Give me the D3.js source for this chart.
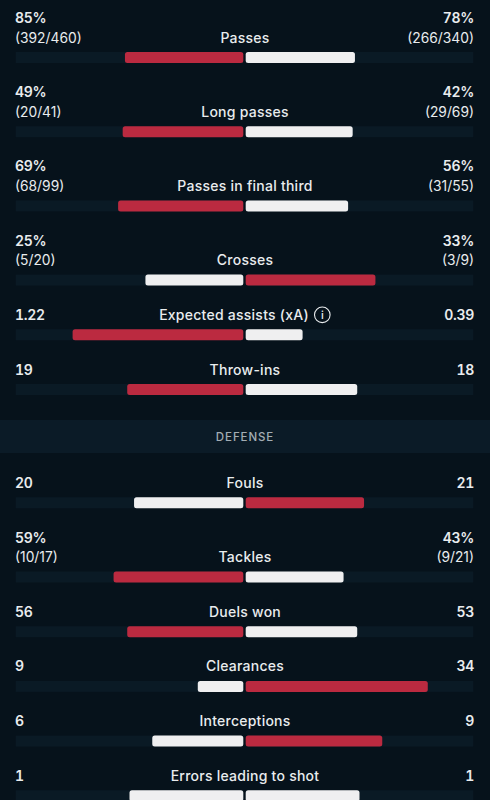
<!DOCTYPE html>
<html><head><meta charset="utf-8">
<script src="https://cdn.jsdelivr.net/npm/d3@7"></script>
<style>html,body{margin:0;padding:0;background:#06121b;overflow:hidden}svg{display:block}text{font-family:Inter,"Noto Sans",sans-serif}.num{font-variant-numeric:tabular-nums;letter-spacing:-0.3px}</style>
</head><body><svg id="c" width="490" height="800"></svg>
<script>
const categories=["Passes","Long passes","Passes in final third","Crosses","Expected assists (xA)","Throw-ins","Fouls","Tackles","Duels won","Clearances","Interceptions","Errors leading to shot"];
const leftValues=[85,49,69,25,1.22,19,20,59,56,9,6,1];
const rightValues=[78,42,56,33,0.39,18,21,43,53,34,9,1];
const leftBarShare=[0.52,0.53,0.55,0.43,0.75,0.51,0.48,0.57,0.51,0.20,0.40,0.50];
const leftLabels=["85%","49%","69%","25%","1.22","19","20","59%","56","9","6","1"];
const rightLabels=["78%","42%","56%","33%","0.39","18","21","43%","53","34","9","1"];
const leftDetail=["(392/460)","(20/41)","(68/99)","(5/20)","","","","(10/17)","","","",""];
const rightDetail=["(266/340)","(29/69)","(31/55)","(3/9)","","","","(9/21)","","","",""];
const sectionLabel="DEFENSE";
const sectionAfter=5;

const svg=d3.select("#c");
const RED="#bb2a40",WHITE="#efeff0",TRACK="#0a1a25",BAND="#0b1b27",TXT="#e9ecee";
const xL=d3.scaleLinear().domain([0,1]).range([243.3,15.7]);
const xR=d3.scaleLinear().domain([0,1]).range([245.7,473.3]);
let y=0;
const tops=categories.map((c,i)=>{
  if(i===0) y=52; else {
    y+=(leftDetail[i]?74.2:54.7);
    if(i===sectionAfter+1) y+=58.6;
  }
  return y;
});
const bandY=tops[sectionAfter]+36;
svg.append("rect").attr("x",0).attr("y",bandY).attr("width",490).attr("height",33).attr("fill",BAND);
svg.append("text").attr("x",245).attr("y",bandY+20.5).attr("text-anchor","middle").attr("font-size",11.5).attr("font-weight",500).attr("letter-spacing",0.9).attr("fill","#a3adb4").text(sectionLabel);

const g=svg.selectAll("g.row").data(categories).join("g").attr("class","row").attr("transform",(d,i)=>`translate(0,${tops[i]})`);
g.append("rect").attr("x",xL(1)).attr("y",0).attr("width",xL(0)-xL(1)).attr("height",11).attr("fill",TRACK);
g.append("rect").attr("x",xR(0)).attr("y",0).attr("width",xR(1)-xR(0)).attr("height",11).attr("fill",TRACK);
g.append("rect").attr("x",(d,i)=>xL(leftBarShare[i])).attr("y",0).attr("height",11).attr("rx",2.5)
 .attr("width",(d,i)=>xL(0)-xL(leftBarShare[i]))
 .attr("fill",(d,i)=>leftValues[i]>rightValues[i]?RED:WHITE);
g.append("rect").attr("x",xR(0)).attr("y",0).attr("height",11).attr("rx",2.5)
 .attr("width",(d,i)=>xR(1-leftBarShare[i])-xR(0))
 .attr("fill",(d,i)=>rightValues[i]>leftValues[i]?RED:WHITE);
const t=(sel,x,yy,anchor,weight,size,fn,cls)=>sel.append("text").attr("class",cls).attr("x",x).attr("y",yy).attr("text-anchor",anchor).attr("font-weight",weight).attr("font-size",size).attr("fill",TXT).text(fn);
const xaExtra=d=>d.startsWith("Expected")?-11:0;
g.append("text").attr("x",d=>245+xaExtra(d)).attr("y",-9.5).attr("text-anchor","middle").attr("font-weight",500).attr("font-size",14).attr("letter-spacing",0.25).attr("fill",TXT).text(d=>d);
g.each(function(d,i){
  const s=d3.select(this);
  const has=!!leftDetail[i];
  t(s,15,has?-29:-9.5,"start",600,14,()=>leftLabels[i],"num");
  t(s,474,has?-29:-9.5,"end",600,14,()=>rightLabels[i],"num");
  if(has){
    t(s,15,-9.5,"start",400,13.8,()=>leftDetail[i],"det");
    t(s,474,-9.5,"end",400,13.8,()=>rightDetail[i],"det");
  }
  if(d.startsWith("Expected")){
    s.append("circle").attr("cx",322.3).attr("cy",-14.5).attr("r",7.8).attr("fill","none").attr("stroke",TXT).attr("stroke-width",1.1);
    s.append("text").attr("x",322.3).attr("y",-10.5).attr("text-anchor","middle").attr("font-size",11).attr("font-weight",500).attr("font-family","DejaVu Sans Mono").attr("fill",TXT).text("i");
  }
});
</script></body></html>
